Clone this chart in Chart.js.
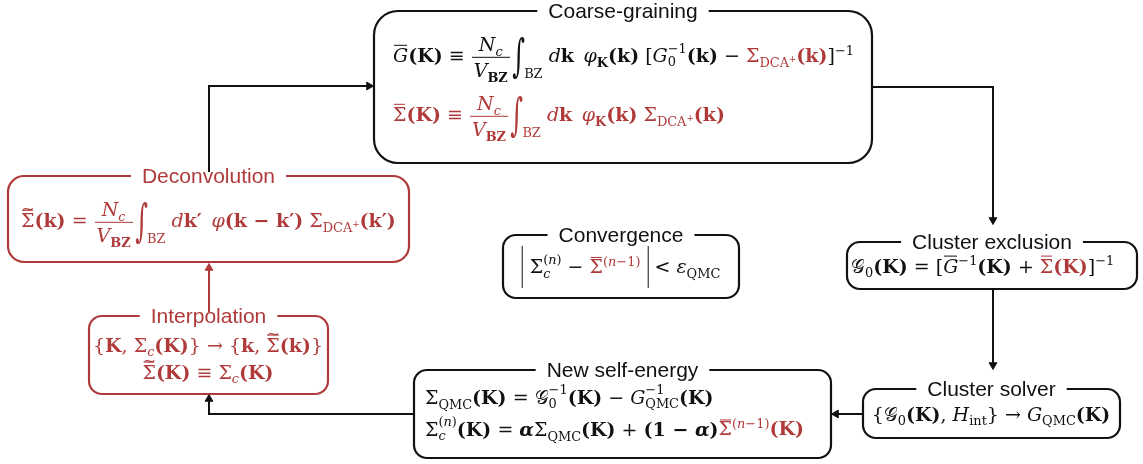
<!DOCTYPE html>
<html>
<head>
<meta charset="utf-8">
<script src="https://cdn.jsdelivr.net/npm/chart.js@4"></script>
<style>
  html, body { margin: 0; padding: 0; background: #fff; }
  #wrap { position: relative; width: 1143px; height: 464px; overflow: hidden; }
  #overlay { position: absolute; left: 0; top: 0; width: 1143px; height: 464px; pointer-events: none; }
  .f { position: absolute; white-space: nowrap; font-family: "DejaVu Serif", serif; font-size: 19px; color: #111; line-height: 1.2; }
  .f.r, .r { color: #b03a3a; }
  .f b { font-weight: bold; }
  sub, sup { font-size: 0.68em; line-height: 0; }
  .frac { display: inline-block; vertical-align: middle; text-align: center; margin: 0 1px; }
  .frac > span { display: block; line-height: 1.3; padding: 0 2px; }
  .frac > span:first-child { border-bottom: 1.6px solid currentColor; }
  .ss { display: inline-block; vertical-align: -0.32em; font-size: 0.68em; line-height: 1.05; text-align: left; }
  .ss > span { display: block; }
  .int { display: inline-block; font-size: 1.35em; transform: scale(0.95, 1.75); vertical-align: -0.12em; line-height: 1; margin-left: 1px; }
  .lim { vertical-align: -1.25em; margin-left: -1px; }
  .bar { position: relative; display: inline-block; line-height: 1; }
  .bar::after { content: ""; position: absolute; left: 8%; right: 8%; top: -0.04em; border-top: 1.5px solid currentColor; }
  .til::before { content: "~"; position: absolute; left: 0; right: 0; top: -0.62em; text-align: center; font-size: 0.85em; line-height: 1; }
  .abs { display: inline-block; border-left: 1.7px solid currentColor; border-right: 1.7px solid currentColor; padding: 7px 7px 8px; line-height: 1.1; }
</style>
</head>
<body>
<div id="wrap">
  <canvas id="flow"></canvas>
  <div id="overlay"></div>
</div>
<script>
(function initFlow() {
  // 1) Diagram data (coordinates in chart units, 1 unit = 1 px).
  const boxNames = ["Coarse-graining", "Cluster exclusion", "Cluster solver", "New self-energy", "Interpolation", "Deconvolution", "Convergence"];
  const boxLeft = [374, 847, 863, 414, 89, 8, 503];
  const boxRight = [872, 1137, 1120, 831, 328, 409, 739];
  const boxTop = [11, 242, 389, 370, 316, 176, 235];
  const boxBottom = [163, 289, 438, 458, 394, 262, 298];
  const boxRed = [false, false, false, false, true, true, false];

  const arrowPaths = [
    [[209, 176], [209, 86], [369, 86]],
    [[872, 87], [993, 87], [993, 220]],
    [[993, 289], [993, 365]],
    [[863, 414], [836, 414]],
    [[414, 414], [209, 414], [209, 399]],
    [[209, 316], [209, 268]]
  ];
  const arrowHeading = [90, 180, 180, 270, 0, 0];
  const arrowRed = [false, false, false, false, false, true];

  // formula markup helpers
  const frac = (n, d) => `<span class="frac"><span>${n}</span><span>${d}</span></span>`;
  const ss = (sup, sub) => `<span class="ss"><span>${sup}</span><span>${sub}</span></span>`;
  const integ = `<span class="int">∫</span><sub class="lim">BZ</sub>`;
  const ncOverV = frac("<i>N</i><sub><i>c</i></sub>", "<i>V</i><sub><b>BZ</b></sub>");
  const sigDCA = "Σ<sub>DCA<sup>+</sup></sub>";
  const sigBar = `<span class="bar">Σ</span>`;
  const sigTil = `<span class="bar til">Σ</span>`;
  const gBar = `<span class="bar"><i>G</i></span>`;
  const gScript = "𝒢";

  const formulas = [
    `${gBar}<b>(K)</b> ≡ ${ncOverV}${integ} <i>d</i><b>k</b>&ensp;<i>φ</i><sub><b>K</b></sub><b>(k)</b> [<i>G</i>${ss("−1", "0")}<b>(k)</b> − <span class="r">${sigDCA}<b>(k)</b></span>]<sup>−1</sup>`,
    `${sigBar}<b>(K)</b> ≡ ${ncOverV}${integ} <i>d</i><b>k</b>&ensp;<i>φ</i><sub><b>K</b></sub><b>(k)</b> ${sigDCA}<b>(k)</b>`,
    `${sigTil}<b>(k)</b> = ${ncOverV}${integ} <i>d</i><b>k′</b>&ensp;<i>φ</i><b>(k − k′)</b> ${sigDCA}<b>(k′)</b>`,
    `<span class="abs">Σ${ss("(<i>n</i>)", "<i>c</i>")} − <span class="r">${sigBar}<sup>(<i>n</i>−1)</sup></span></span> &lt; <i>ε</i><sub>QMC</sub>`,
    `${gScript}<sub>0</sub><b>(K)</b> = [${gBar}<sup>−1</sup><b>(K)</b> + <span class="r">${sigBar}<b>(K)</b></span>]<sup>−1</sup>`,
    `{<b>K</b>, Σ<sub><i>c</i></sub><b>(K)</b>} → {<b>k</b>, ${sigTil}<b>(k)</b>}`,
    `${sigTil}<b>(K)</b> ≡ Σ<sub><i>c</i></sub><b>(K)</b>`,
    `Σ<sub>QMC</sub><b>(K)</b> = ${gScript}${ss("−1", "0")}<b>(K)</b> − <i>G</i>${ss("−1", "QMC")}<b>(K)</b>`,
    `Σ${ss("(<i>n</i>)", "<i>c</i>")}<b>(K)</b> = <b><i>α</i></b>Σ<sub>QMC</sub><b>(K)</b> + <b>(1 − <i>α</i>)</b><span class="r">${sigBar}<sup>(<i>n</i>−1)</sup><b>(K)</b></span>`,
    `{${gScript}<sub>0</sub><b>(K)</b>, <i>H</i><sub>int</sub>} → <i>G</i><sub>QMC</sub><b>(K)</b>`
  ];
  const formulaX = [393, 393, 21, 621, 851, 208, 208, 425, 425, 991];
  const formulaY = [57, 116, 222, 267, 266, 345, 372, 397, 429, 414];
  const formulaCentered = [false, false, false, true, false, true, true, false, false, true];
  const formulaRed = [false, true, true, false, false, true, true, false, false, false];

  const BLACK = "#111111";
  const RED = "#b03a3a";

  // 2) Overlay text nodes.
  const overlay = document.getElementById("overlay");
  const formulaNodes = formulas.map((html, i) => {
    const el = document.createElement("div");
    el.className = "f" + (formulaRed[i] ? " r" : "");
    el.innerHTML = html;
    overlay.appendChild(el);
    return el;
  });

  // 3) Plugin: rounded boxes, titles and formula placement.
  const flowPlugin = {
    id: "flowBoxes",
    afterDatasetsDraw(chart) {
      const { ctx, scales } = chart;
      const xs = scales.x;
      const ys = scales.y;
      boxNames.forEach((name, i) => {
        const x0 = xs.getPixelForValue(boxLeft[i]);
        const x1 = xs.getPixelForValue(boxRight[i]);
        const y0 = ys.getPixelForValue(boxTop[i]);
        const y1 = ys.getPixelForValue(boxBottom[i]);
        const color = boxRed[i] ? RED : BLACK;
        const radius = i === 0 ? 24 : (i === 5 ? 16 : 13);

        ctx.save();
        ctx.strokeStyle = color;
        ctx.lineWidth = 2.2;
        ctx.beginPath();
        ctx.roundRect(x0, y0, x1 - x0, y1 - y0, radius);
        ctx.stroke();

        ctx.font = '21px "Liberation Sans", Arial, sans-serif';
        const w = ctx.measureText(name).width;
        const cx = (x0 + x1) / 2;
        ctx.fillStyle = "#fff";
        ctx.fillRect(cx - w / 2 - 11, y0 - 4, w + 22, 8);
        ctx.fillStyle = color;
        ctx.textAlign = "center";
        ctx.textBaseline = "middle";
        ctx.fillText(name, cx, y0 + 1);
        ctx.restore();
      });
    },
    afterDraw(chart) {
      const xs = chart.scales.x;
      const ys = chart.scales.y;
      formulaNodes.forEach((el, i) => {
        el.style.left = xs.getPixelForValue(formulaX[i]) + "px";
        el.style.top = ys.getPixelForValue(formulaY[i]) + "px";
        el.style.transform = formulaCentered[i] ? "translate(-50%, -50%)" : "translateY(-50%)";
      });
    }
  };

  // 4) Connector datasets, arrowheads via triangle point style.
  const datasets = arrowPaths.map((path, i) => {
    const color = arrowRed[i] ? RED : BLACK;
    const last = path.length - 1;
    return {
      data: path.map(([x, y]) => ({ x, y })),
      showLine: true,
      borderColor: color,
      borderWidth: 2,
      tension: 0,
      pointStyle: "triangle",
      pointRadius: (c) => (c.dataIndex === last ? 4.5 : 0),
      pointRotation: arrowHeading[i],
      pointBackgroundColor: color,
      pointBorderColor: color,
      pointBorderWidth: 1
    };
  });

  new Chart(document.getElementById("flow"), {
    type: "scatter",
    data: { datasets },
    options: {
      responsive: true,
      maintainAspectRatio: false,
      animation: false,
      events: [],
      layout: { padding: 0, autoPadding: false },
      plugins: { legend: { display: false }, tooltip: { enabled: false } },
      scales: {
        x: { type: "linear", min: 0, max: 1143, display: false },
        y: { type: "linear", min: 0, max: 464, reverse: true, display: false }
      }
    },
    plugins: [flowPlugin]
  });
})();
</script>
</body>
</html>
